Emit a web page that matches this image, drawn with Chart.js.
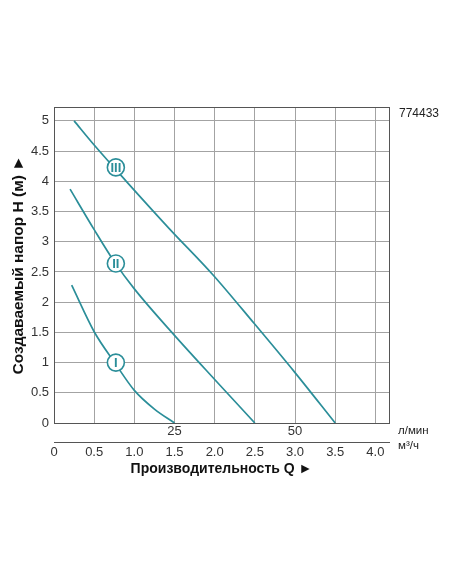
<!DOCTYPE html>
<html>
<head>
<meta charset="utf-8">
<script src="https://cdn.jsdelivr.net/npm/chart.js@4.4.1/dist/chart.umd.min.js"></script>
<style>
  html, body { margin: 0; padding: 0; background: #fff; }
  #wrap { position: relative; width: 452px; height: 584px; }
  .note { position: absolute; font-family: "Liberation Sans", Arial, sans-serif; color: #222; white-space: nowrap; }
</style>
</head>
<body>
<div id="wrap">
  <canvas id="pump-chart"></canvas>
  <span class="note" style="left:399px; top:106px; font-size:12px;">774433</span>
  <span class="note" style="left:398px; top:424px; font-size:11.5px;">л/мин</span>
  <span class="note" style="left:398px; top:439px; font-size:11.5px;">м³/ч</span>
</div>
<script>
// flow Q in m3/h, head H in m
const qTicks = [0, 0.5, 1.0, 1.5, 2.0, 2.5, 3.0, 3.5, 4.0];
const hTicks = [0, 0.5, 1, 1.5, 2, 2.5, 3, 3.5, 4, 4.5, 5];
const lpmTicks = [25, 50];

const curve1Q = [0.22, 0.5, 0.76, 1.0, 1.25, 1.5];
const curve1H = [2.28, 1.51, 0.99, 0.54, 0.23, 0];
const curve2Q = [0.2, 0.5, 0.76, 1.0, 1.5, 2.0, 2.5];
const curve2H = [3.87, 3.2, 2.65, 2.22, 1.45, 0.72, 0];
const curve3Q = [0.25, 0.5, 0.9, 1.44, 1.98, 2.49, 2.99, 3.5];
const curve3H = [5.0, 4.6, 4.0, 3.21, 2.45, 1.65, 0.85, 0];

const markerLabels = ['I', 'II', 'III'];
const markerQ = [0.77, 0.77, 0.77];
const markerH = [1.0, 2.64, 4.23];

const teal = '#2b8e99';
const gridGrey = '#a3a3a3';
const frame = '#555';
const font = '"Liberation Sans", Arial, sans-serif';

const pts = (xs, ys) => xs.map((x, i) => ({ x: x, y: ys[i] }));
const curve = (xs, ys) => ({
  type: 'line',
  data: pts(xs, ys),
  borderColor: teal,
  borderWidth: 1.7,
  pointRadius: 0,
  cubicInterpolationMode: 'monotone',
  fill: false
});

// plot frame + numerals inside the circles
const extras = {
  id: 'extras',
  afterDraw(chart) {
    const ctx = chart.ctx;
    const a = chart.chartArea;
    ctx.save();
    ctx.strokeStyle = frame;
    ctx.lineWidth = 1;
    ctx.strokeRect(a.left + 0.5, a.top + 0.5, a.right - a.left, a.bottom - a.top);
    const meta = chart.getDatasetMeta(0);
    ctx.fillStyle = teal;
    ctx.font = 'bold 13px ' + font;
    ctx.textAlign = 'center';
    ctx.textBaseline = 'middle';
    meta.data.forEach((p, i) => ctx.fillText(markerLabels[i], p.x, p.y + 1));
    ctx.restore();
  }
};

const ctx = document.getElementById('pump-chart').getContext('2d');
new Chart(ctx, {
  type: 'line',
  data: {
    datasets: [
      {
        type: 'scatter',
        data: pts(markerQ, markerH),
        pointRadius: 8.5,
        pointBackgroundColor: '#fff',
        pointBorderColor: teal,
        pointBorderWidth: 1.6,
        showLine: false
      },
      curve(curve1Q, curve1H),
      curve(curve2Q, curve2H),
      curve(curve3Q, curve3H)
    ]
  },
  options: {
    responsive: true,
    maintainAspectRatio: false,
    animation: false,
    layout: { padding: { left: 4, right: 63, top: 107, bottom: 82 } },
    plugins: { legend: { display: false }, tooltip: { enabled: false } },
    scales: {
      x: {
        type: 'linear',
        position: 'bottom',
        min: 0,
        max: 4.17,
        afterBuildTicks: s => { s.ticks = qTicks.map(v => ({ value: v })); },
        afterFit: s => { s.height = 19; },
        grid: { color: gridGrey, lineWidth: 1, drawTicks: false },
        border: { display: true, color: frame },
        ticks: {
          padding: 1,
          color: '#333',
          font: { family: font, size: 13 },
          maxRotation: 0,
          autoSkip: false,
          callback: v => {
            const l = lpmTicks.find(l => Math.abs(l * 0.06 - v) < 1e-6);
            return l === undefined ? '' : String(l);
          }
        }
      },
      x2: {
        type: 'linear',
        position: 'bottom',
        min: 0,
        max: 4.17,
        afterBuildTicks: s => { s.ticks = qTicks.map(v => ({ value: v })); },
        afterFit: s => { s.height = 60; },
        grid: { display: false, drawTicks: false },
        border: { display: true, color: frame },
        ticks: {
          padding: 3,
          color: '#333',
          font: { family: font, size: 13 },
          maxRotation: 0,
          autoSkip: false,
          callback: v => v === 0 ? '0' : v.toFixed(1)
        },
        title: {
          display: true,
          text: 'Производительность Q ►',
          color: '#111',
          font: { family: font, size: 14, weight: 'bold' },
          padding: { top: 0, bottom: 24 }
        }
      },
      y: {
        type: 'linear',
        min: 0,
        max: 5.23,
        afterBuildTicks: s => { s.ticks = hTicks.map(v => ({ value: v })); },
        afterFit: s => { s.width = 50; },
        grid: { color: gridGrey, lineWidth: 1, drawTicks: false },
        border: { display: true, color: frame },
        ticks: {
          padding: 5,
          color: '#333',
          font: { family: font, size: 13 },
          callback: v => String(v)
        },
        title: {
          display: true,
          text: 'Создаваемый напор Н (м) ►',
          color: '#111',
          font: { family: font, size: 15.5, weight: 'bold' },
          padding: { top: 5, bottom: 0 }
        }
      }
    }
  },
  plugins: [extras]
});
</script>
</body>
</html>
